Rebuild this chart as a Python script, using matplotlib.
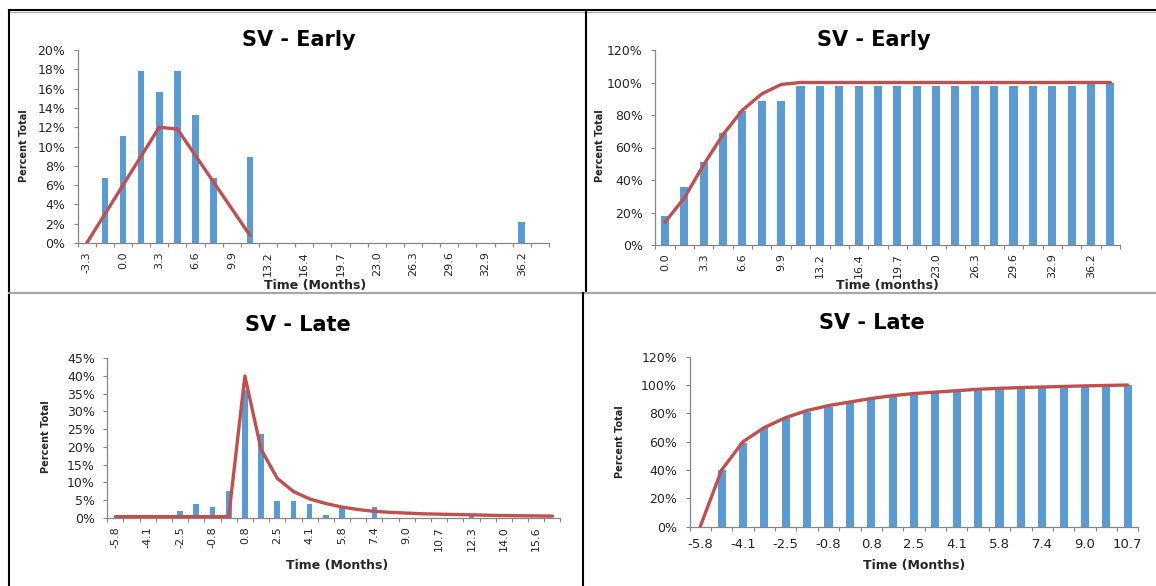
import matplotlib
matplotlib.use("Agg")
import matplotlib.pyplot as plt
from matplotlib.lines import Line2D
import numpy as np

plt.rcParams['font.family'] = ['DejaVu Sans']

# ---- data (percent values) ----
# SV - Early, distribution
early_bars = [0, 6.7, 11.1, 17.8, 15.6, 17.8, 13.3, 6.7, 0, 8.9,
              0, 0, 0, 0, 0, 0, 0, 0, 0, 0, 0, 0, 0, 0, 2.2, 0]
early_fit = [0, 3.0, 6.0, 9.0, 12.0, 11.8, 9.05, 6.3, 3.55, 0.8]
early_labels = ['-3.3', '0.0', '3.3', '6.6', '9.9', '13.2', '16.4', '19.7',
                '23.0', '26.3', '29.6', '32.9', '36.2']

# SV - Early, cumulative
early_cum_bars = [17.8, 35.6, 51.1, 68.9, 82.2, 88.9, 88.9] + [97.8] * 15 + [100, 100]
early_cum_fit = [14, 29, 49.5, 68, 83, 93, 98.8] + [100] * 17
early_cum_labels = ['0.0', '3.3', '6.6', '9.9', '13.2', '16.4', '19.7', '23.0',
                    '26.3', '29.6', '32.9', '36.2']

# SV - Late, distribution
late_bars = [0, 0.8, 0, 0, 1.8, 3.8, 2.9, 7.4, 36.0, 23.5, 4.7, 4.7, 3.8, 0.9,
             2.9, 0, 2.9, 0, 0, 0, 0, 0, 0.5, 0, 0, 0, 0, 0]
late_fit = [0.3] * 8 + [40, 19.3, 11.1, 7.4, 5.3, 4.0, 3.0, 2.3, 1.8, 1.5, 1.3,
                        1.1, 1.0, 0.9, 0.8, 0.7, 0.6, 0.55, 0.5, 0.45]
late_labels = ['-5.8', '-4.1', '-2.5', '-0.8', '0.8', '2.5', '4.1', '5.8', '7.4',
               '9.0', '10.7', '12.3', '14.0', '15.6']

# SV - Late, cumulative
late_cum_bars = [0, 40, 58.8, 69.4, 76.5, 81.2, 84.7, 87, 89.9, 91.8, 93.2, 94.1,
                 95, 96, 97, 97.4, 97.9, 98.4, 98.8, 99.3, 99.8]
late_cum_fit = [0, 40, 60, 70, 77, 82, 85.5, 88, 90.5, 92.5, 94, 95, 96, 97, 97.7,
                98.2, 98.6, 99, 99.4, 99.7, 100]
late_cum_labels = ['-5.8', '-4.1', '-2.5', '-0.8', '0.8', '2.5', '4.1', '5.8',
                   '7.4', '9.0', '10.7']

BAR = '#5b9bd5'
LINE = '#c0504d'
AXIS = '#868686'
TXT = '#262626'
W, H = 1156, 586

fig = plt.figure(figsize=(W / 100, H / 100), dpi=100)


def px_rect(l, t, r, b):
    return [l / W, 1 - b / H, (r - l) / W, (b - t) / H]


def panel(rect, bars, fit, labels, ymax, ystep, bw, rotate, title, title_xy,
          xlabel, xlabel_xy, ylabel_xy):
    ax = fig.add_axes(px_rect(*rect))
    x = np.arange(len(bars))
    ax.bar(x, bars, width=bw, color=BAR, zorder=2)
    ax.plot(np.arange(len(fit)), fit, color=LINE, lw=2.4, zorder=3,
            solid_capstyle='round', solid_joinstyle='round')
    ax.set_xlim(-0.5, len(bars) - 0.5)
    ax.set_ylim(0, ymax)
    yt = np.arange(0, ymax + 0.01, ystep)
    ax.set_yticks(yt)
    ax.set_yticklabels(['%d%%' % v for v in yt], fontsize=9, color=TXT)
    # tick marks between categories, labels every second category
    ax.set_xticks(np.arange(-0.5, len(bars)), [])
    ax.set_xticks(np.arange(0, 2 * len(labels), 2), labels, minor=True,
                  rotation=90 if rotate else 0,
                  fontsize=8 if rotate else 9.5, color=TXT)
    ax.tick_params(axis='x', which='major', direction='out', length=3,
                   color=AXIS, width=0.8)
    ax.tick_params(axis='x', which='minor', length=0, pad=6 if rotate else 8)
    ax.tick_params(axis='y', direction='out', length=3, color=AXIS, width=0.8,
                   pad=6)
    for s in ['top', 'right']:
        ax.spines[s].set_visible(False)
    for s in ['left', 'bottom']:
        ax.spines[s].set_color(AXIS)
        ax.spines[s].set_linewidth(0.9)
    fig.text(title_xy[0] / W, 1 - title_xy[1] / H, title, fontsize=15,
             fontweight='bold', ha='center', va='center', color='black')
    fig.text(xlabel_xy[0] / W, 1 - xlabel_xy[1] / H, xlabel, fontsize=9,
             fontweight='bold', ha='center', va='center', color=TXT)
    fig.text(ylabel_xy[0] / W, 1 - ylabel_xy[1] / H, 'Percent Total',
             fontsize=7, fontweight='bold', ha='center', va='center',
             rotation=90, color=TXT)
    return ax


panel((77.7, 50, 549, 243), early_bars, early_fit, early_labels, 20, 2, 0.37,
      True, 'SV - Early', (299, 40), 'Time (Months)', (315, 285), (24, 146))
panel((655.3, 50, 1120, 245), early_cum_bars, early_cum_fit, early_cum_labels,
      120, 20, 0.42, True, 'SV - Early', (874, 40), 'Time (months)', (887, 285),
      (600, 146))
panel((107.3, 358.3, 560.5, 517.7), late_bars, late_fit, late_labels, 45, 5,
      0.35, True, 'SV - Late', (298, 325), 'Time (Months)', (337, 565), (46, 437))
panel((689.5, 356.7, 1138.4, 526.7), late_cum_bars, late_cum_fit,
      late_cum_labels, 120, 20, 0.38, False, 'SV - Late', (872, 323),
      'Time (Months)', (914, 565), (620, 442))


# panel frame lines
def seg(x0, y0, x1, y1, color='black', lw=1.5):
    fig.add_artist(Line2D([x0 / W, x1 / W], [1 - y0 / H, 1 - y1 / H],
                          transform=fig.transFigure, color=color, lw=lw))


seg(9, 10, W, 10)
seg(9, 11.8, W, 11.8, color='#b0b0b0', lw=1)
seg(9, 10, 9, H)
seg(586, 10, 586, 293)
seg(9, 293, W, 293, color='#a6a6a6', lw=1.6)
seg(583, 293, 583, H)

fig.savefig('out.png', dpi=100)
